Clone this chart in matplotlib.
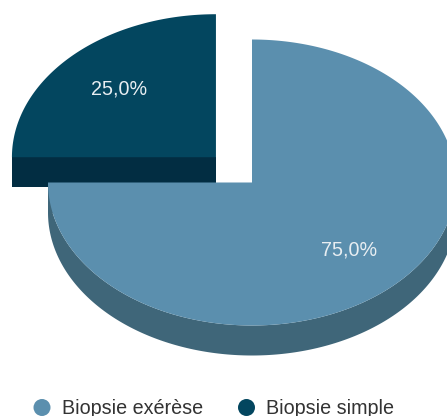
import numpy as np
import matplotlib
matplotlib.use('Agg')
import matplotlib.pyplot as plt
from matplotlib.patches import Polygon, Circle

labels = ['Biopsie exérèse', 'Biopsie simple']
values = [75.0, 25.0]
top_colors = ['#5b8fae', '#03465f']
side_colors = ['#3f6679', '#022d42']
explode = [0.0, 0.25]

plt.rcParams['font.family'] = ['Liberation Sans', 'DejaVu Sans']

W, H = 447, 416
fig = plt.figure(figsize=(W / 100, H / 100), dpi=100)
ax = fig.add_axes([0, 0, 1, 1])
ax.set_xlim(0, W)
ax.set_ylim(H, 0)
ax.axis('off')

# pie geometry (pixels, y goes down)
cx, cy = 252, 182.5
rx, ry = 204, 143
depth = 30
start = 90.0

total = sum(values)
slices = []
cum = 0.0
for i in range(len(values)):
    t0 = start - 360 * cum / total
    cum += values[i]
    t1 = start - 360 * cum / total
    mid = np.radians((t0 + t1) / 2)
    ox = cx + explode[i] * rx * np.cos(mid)
    oy = cy - explode[i] * ry * np.sin(mid)
    slices.append((i, t0, t1, mid, ox, oy))

def pt(ox, oy, a):
    return ox + rx * np.cos(np.radians(a)), oy - ry * np.sin(np.radians(a))

# back slices first
for i, t0, t1, mid, ox, oy in sorted(slices, key=lambda s: s[5]):
    lo, hi = min(t0, t1), max(t0, t1)
    # front half of the rim, angles between -180 and 0 (mod 360)
    rim = []
    for shift in (-360, 0, 360):
        a0 = max(lo, -180 + shift)
        a1 = min(hi, 0 + shift)
        if a1 > a0:
            angs = np.linspace(a0, a1, 200)
            top = [pt(ox, oy, a) for a in angs]
            bot = [(x, y + depth) for x, y in top[::-1]]
            rim.append(top + bot)
    for poly in rim:
        ax.add_patch(Polygon(poly, closed=True, fc=side_colors[i], ec='none'))
    # radial faces
    for a in (t0, t1):
        ex, ey = pt(ox, oy, a)
        face = [(ox, oy), (ex, ey), (ex, ey + depth), (ox, oy + depth)]
        ax.add_patch(Polygon(face, closed=True, fc=side_colors[i], ec='none'))
    # top surface
    angs = np.linspace(t0, t1, 400)
    top = [(ox, oy)] + [pt(ox, oy, a) for a in angs]
    ax.add_patch(Polygon(top, closed=True, fc=top_colors[i], ec='none'))

# percent labels
for i, t0, t1, mid, ox, oy in slices:
    lx = ox + 0.67 * rx * np.cos(mid)
    ly = oy - 0.67 * ry * np.sin(mid)
    txt = ('%.1f%%' % (100 * values[i] / total)).replace('.', ',')
    ax.text(lx, ly, txt, color='#e8eef2', fontsize=14.2,
            ha='center', va='center')

# legend along the bottom
leg_x = [42, 246.5]
for i in range(len(labels)):
    ax.add_patch(Circle((leg_x[i], 407.5), 8.5, fc=top_colors[i], ec='none'))
    ax.text(leg_x[i] + 20, 414.5, labels[i], color='#333333', fontsize=14.2,
            ha='left', va='baseline')

fig.savefig('out.png', dpi=100)
